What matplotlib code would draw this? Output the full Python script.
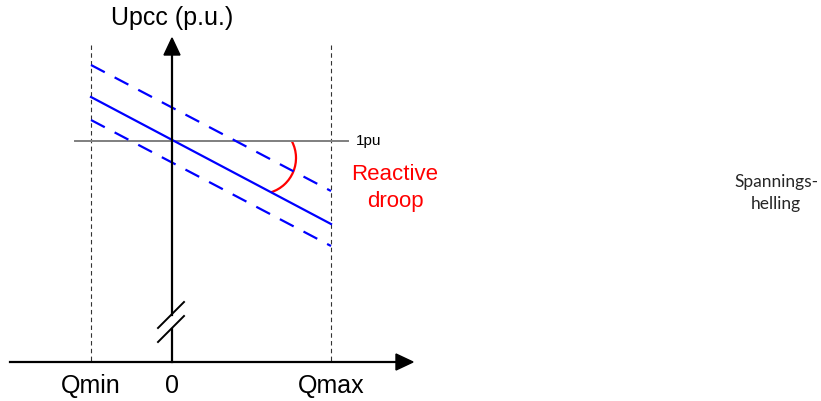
import numpy as np
import matplotlib.pyplot as plt
from matplotlib.patches import Arc, FancyArrow

# canvas units (pixels, y grows downward)
q_names = ['Qmin', '0', 'Qmax']
q_pos = [91, 172, 331]          # Qmin, origin, Qmax
x_axis_y = 362
u_1pu = 141

# droop characteristic: voltage at Qmin and Qmax
droop_mid = [97, 224]
droop_upper = [65, 191]
droop_lower = [120, 246]

fig = plt.figure(figsize=(8.21, 4.01), dpi=100)
ax = fig.add_axes([0, 0, 1, 1])
ax.set_xlim(0, 821)
ax.set_ylim(401, 0)
ax.set_aspect('equal')
ax.axis('off')

qmin, q0, qmax = q_pos

# limits Qmin / Qmax
for q in (qmin, qmax):
    ax.plot([q, q], [45, x_axis_y], color='#333333', lw=0.8, ls=(0, (4, 3)))

# 1 pu reference
ax.plot([75, 348], [u_1pu, u_1pu], color='#7f7f7f', lw=1.4)
ax.text(356, u_1pu, '1pu', fontsize=11, family='Liberation Sans', va='center', ha='left')

# droop lines
ends = [qmin, qmax]
ax.plot(ends, droop_mid, color='#0000ff', lw=1.6)
for d in (droop_upper, droop_lower):
    ax.plot(ends, d, color='#0000ff', lw=1.6, ls=(0, (7, 5)))

# angle marker for the droop
ax.add_patch(Arc((260, 158), 72, 72, theta1=-27, theta2=72, color='red', lw=1.6))
ax.text(395, 175, 'Reactive', color='red', fontsize=16, family='Liberation Sans', ha='center', va='center')
ax.text(395, 202, 'droop', color='red', fontsize=16, family='Liberation Sans', ha='center', va='center')

# axes with arrows
ax.plot([10, 398], [x_axis_y, x_axis_y], color='black', lw=1.6)
ax.add_patch(FancyArrow(396, x_axis_y, 17, 0, width=0, head_width=16, head_length=17,
                        length_includes_head=True, color='black'))
ax.plot([q0, q0], [x_axis_y, 329], color='black', lw=1.6)
ax.plot([q0, q0], [315, 53], color='black', lw=1.6)
ax.add_patch(FancyArrow(q0, 55, 0, -17, width=0, head_width=16, head_length=17,
                        length_includes_head=True, color='black'))

# axis break marks
for off in (0, 14):
    ax.plot([158, 184], [328 + off, 302 + off], color='black', lw=1.4)

ax.text(q0, 18, 'Upcc (p.u.)', fontsize=18, family='Liberation Sans', ha='center', va='center')
for name, q in zip(q_names, q_pos):
    ax.text(q, 386, name, fontsize=18, family='Liberation Sans', ha='center', va='center')

ax.text(776, 193, 'Spannings-\nhelling', fontsize=12.5, family='Lato', ha='center', va='center',
        color='#262626', linespacing=1.45)

fig.savefig('out.png', dpi=100)
